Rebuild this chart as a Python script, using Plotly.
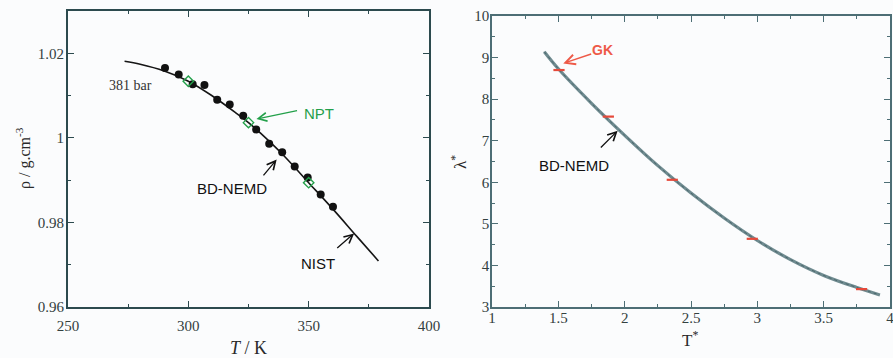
import plotly.graph_objects as go

# ---- Left panel: density of water at 381 bar ----
nist_T = [273.5, 280, 290, 300, 310, 320, 325, 330, 340, 350, 360, 370, 379]
nist_rho = [1.0181, 1.0174, 1.0158, 1.0134, 1.0099, 1.0058, 1.0036, 1.0011,
            0.9956, 0.9894, 0.9832, 0.9767, 0.9709]

bd_T = [290.3, 296.0, 301.8, 306.7, 312.0, 317.2, 322.8, 328.2, 333.6,
        339.0, 344.2, 349.6, 355.0, 360.1]
bd_rho = [1.0165, 1.0150, 1.0127, 1.0125, 1.0090, 1.0079, 1.0052, 1.0020,
          0.9986, 0.9966, 0.9932, 0.9906, 0.9866, 0.9837]

npt_T = [300, 325, 350]
npt_rho = [1.0134, 1.0036, 0.9894]

# ---- Right panel: reduced thermal conductivity ----
nemd_Ts = [1.394, 1.5, 1.75, 2.0, 2.25, 2.5, 2.75, 3.0, 3.25, 3.5, 3.75, 3.924]
nemd_lam = [9.14, 8.73, 7.90, 7.13, 6.40, 5.74, 5.14, 4.60, 4.14, 3.76, 3.47, 3.29]

gk_Ts = [1.505, 1.877, 2.359, 2.962, 3.786]
gk_lam = [8.70, 7.58, 6.06, 4.64, 3.43]

x_ticks_left = [250, 300, 350, 400]
y_ticks_left = [0.96, 0.98, 1.0, 1.02]
y_ticklabels_left = ["0.96", "0.98", "1", "1.02"]
x_ticks_right = [1, 1.5, 2, 2.5, 3, 3.5, 4]
x_ticklabels_right = ["1", "1.5", "2", "2.5", "3", "3.5", "4"]
y_ticks_right = [3, 4, 5, 6, 7, 8, 9, 10]

W, H = 893, 358
SERIF = "Liberation Serif"
SANS = "Liberation Sans"
FRAME_L = "#2c4a4e"
FRAME_R = "#4d6e75"
TICKFONT = dict(family=SERIF, size=15, color="#334040")

fig = go.Figure()

fig.add_trace(go.Scatter(x=nist_T, y=nist_rho, mode="lines", line=dict(color="#151515", width=1.6, shape="spline"),
                         xaxis="x", yaxis="y", showlegend=False))
fig.add_trace(go.Scatter(x=bd_T, y=bd_rho, mode="markers",
                         marker=dict(color="#111111", size=8, line=dict(width=0)),
                         xaxis="x", yaxis="y", showlegend=False))
fig.add_trace(go.Scatter(x=npt_T, y=npt_rho, mode="markers",
                         marker=dict(symbol="diamond-open", color="#23a04a", size=8, line=dict(width=1.4, color="#23a04a")),
                         xaxis="x", yaxis="y", showlegend=False))

fig.add_trace(go.Scatter(x=nemd_Ts, y=nemd_lam, mode="lines", line=dict(color="#6f8b90", width=3.2, shape="spline"),
                         xaxis="x2", yaxis="y2", showlegend=False))
fig.add_trace(go.Scatter(x=nemd_Ts, y=nemd_lam, mode="lines", line=dict(color="#4a666b", width=1, shape="spline", dash="dot"),
                         xaxis="x2", yaxis="y2", showlegend=False))
fig.add_trace(go.Scatter(x=gk_Ts, y=gk_lam, mode="markers",
                         marker=dict(symbol="line-ew", size=8, line=dict(width=2.2, color="#e5493a")),
                         xaxis="x2", yaxis="y2", showlegend=False))


def px_x(p):
    return p / W


def px_y(p):
    return 1 - p / H


axis_common = dict(showgrid=False, zeroline=False, showline=True, mirror="allticks",
                   ticks="inside", ticklen=6, tickwidth=1.2, automargin=False,
                   ticklabeloverflow="allow", tickfont=TICKFONT)

fig.update_layout(
    width=W, height=H, margin=dict(l=0, r=0, t=0, b=0, autoexpand=False),
    paper_bgcolor="#fbfcfd", plot_bgcolor="#fbfcfd",
    xaxis=dict(domain=[px_x(68), px_x(429)], range=[250, 400], tickvals=x_ticks_left,
               linecolor=FRAME_L, linewidth=1.8, tickcolor=FRAME_L,
               minor=dict(ticks="inside", ticklen=3, dtick=25, tickcolor=FRAME_L),
               anchor="y", ticklabelstandoff=4, **axis_common),
    yaxis=dict(domain=[px_y(307), px_y(11)], range=[0.96, 1.03], tickvals=y_ticks_left,
               ticktext=y_ticklabels_left,
               linecolor=FRAME_L, linewidth=1.8, tickcolor=FRAME_L,
               minor=dict(ticks="inside", ticklen=3, dtick=0.01, tickcolor=FRAME_L),
               anchor="x", ticklabelstandoff=-1, **axis_common),
    xaxis2=dict(domain=[px_x(492), px_x(890)], range=[1, 4], tickvals=x_ticks_right,
                ticktext=x_ticklabels_right,
                linecolor=FRAME_R, linewidth=1.5, tickcolor=FRAME_R,
                minor=dict(ticks="inside", ticklen=3, dtick=0.25, tickcolor=FRAME_R),
                anchor="y2", ticklabelstandoff=-4, **axis_common),
    yaxis2=dict(domain=[px_y(307), px_y(16)], range=[3, 10], tickvals=y_ticks_right,
                linecolor=FRAME_R, linewidth=1.5, tickcolor=FRAME_R,
                minor=dict(ticks="inside", ticklen=3, dtick=0.5, tickcolor=FRAME_R),
                anchor="x2", ticklabelstandoff=-2, **axis_common),
)

ann = []
CENTER = dict(xanchor="center", yanchor="middle")
# axis titles
ann.append(dict(xref="paper", yref="paper", x=px_x(248), y=px_y(348), text="<i>T</i> / K",
                showarrow=False, font=dict(family=SERIF, size=18, color="#2a2a2a"), **CENTER))
ann.append(dict(xref="paper", yref="paper", x=px_x(24), y=px_y(158), text="ρ / g.cm<sup>-3</sup>",
                textangle=-90, showarrow=False, font=dict(family=SERIF, size=16, color="#2a2a2a"), **CENTER))
ann.append(dict(xref="paper", yref="paper", x=px_x(690), y=px_y(339), text="T<sup>*</sup>",
                showarrow=False, font=dict(family=SERIF, size=17, color="#2a2a2a"), **CENTER))
ann.append(dict(xref="paper", yref="paper", x=px_x(459), y=px_y(162), text="λ<sup>*</sup>",
                textangle=-90, showarrow=False, font=dict(family=SERIF, size=17, color="#2a2a2a"), **CENTER))

# left panel labels
ann.append(dict(xref="x", yref="y", x=276.0, y=1.01245, text="381 bar", showarrow=False,
                font=dict(family=SERIF, size=14, color="#333333"), **CENTER))
ann.append(dict(xref="x", yref="y", x=354.2, y=1.00583, text="NPT", showarrow=False,
                font=dict(family=SANS, size=15, color="#23a04a"), **CENTER))
ann.append(dict(xref="x", yref="y", x=328.3, y=1.00444, ax=345.8, ay=1.00654, axref="x", ayref="y",
                text="", showarrow=True, arrowhead=5, arrowsize=1.3, arrowwidth=1.3, arrowcolor="#23a04a"))
ann.append(dict(xref="x", yref="y", x=318.3, y=0.98811, text="BD-NEMD", showarrow=False,
                font=dict(family=SANS, size=15, color="#111111"), **CENTER))
ann.append(dict(xref="x", yref="y", x=336.7, y=0.99489, ax=330.7, ay=0.99078, axref="x", ayref="y",
                text="", showarrow=True, arrowhead=5, arrowsize=1.3, arrowwidth=1.3, arrowcolor="#111111"))
ann.append(dict(xref="x", yref="y", x=353.75, y=0.97039, text="NIST", showarrow=False,
                font=dict(family=SANS, size=15, color="#111111"), **CENTER))
ann.append(dict(xref="x", yref="y", x=368.9, y=0.97741, ax=361.25, ay=0.97363, axref="x", ayref="y",
                text="", showarrow=True, arrowhead=5, arrowsize=1.3, arrowwidth=1.3, arrowcolor="#111111"))

# right panel labels
ann.append(dict(xref="x2", yref="y2", x=1.830, y=9.18, text="<b>GK</b>", showarrow=False,
                font=dict(family=SANS, size=14, color="#ee5a48"), **CENTER))
ann.append(dict(xref="x2", yref="y2", x=1.537, y=8.86, ax=1.759, ay=9.10, axref="x2", ayref="y2",
                text="", showarrow=True, arrowhead=5, arrowsize=1.3, arrowwidth=1.5, arrowcolor="#ee5a48"))
ann.append(dict(xref="x2", yref="y2", x=1.619, y=6.40, text="BD-NEMD", showarrow=False,
                font=dict(family=SANS, size=15, color="#111111"), **CENTER))
ann.append(dict(xref="x2", yref="y2", x=1.947, y=7.24, ax=1.809, ay=6.80, axref="x2", ayref="y2",
                text="", showarrow=True, arrowhead=5, arrowsize=1.3, arrowwidth=1.3, arrowcolor="#111111"))

fig.update_layout(annotations=ann)

fig.write_html("out.html")
